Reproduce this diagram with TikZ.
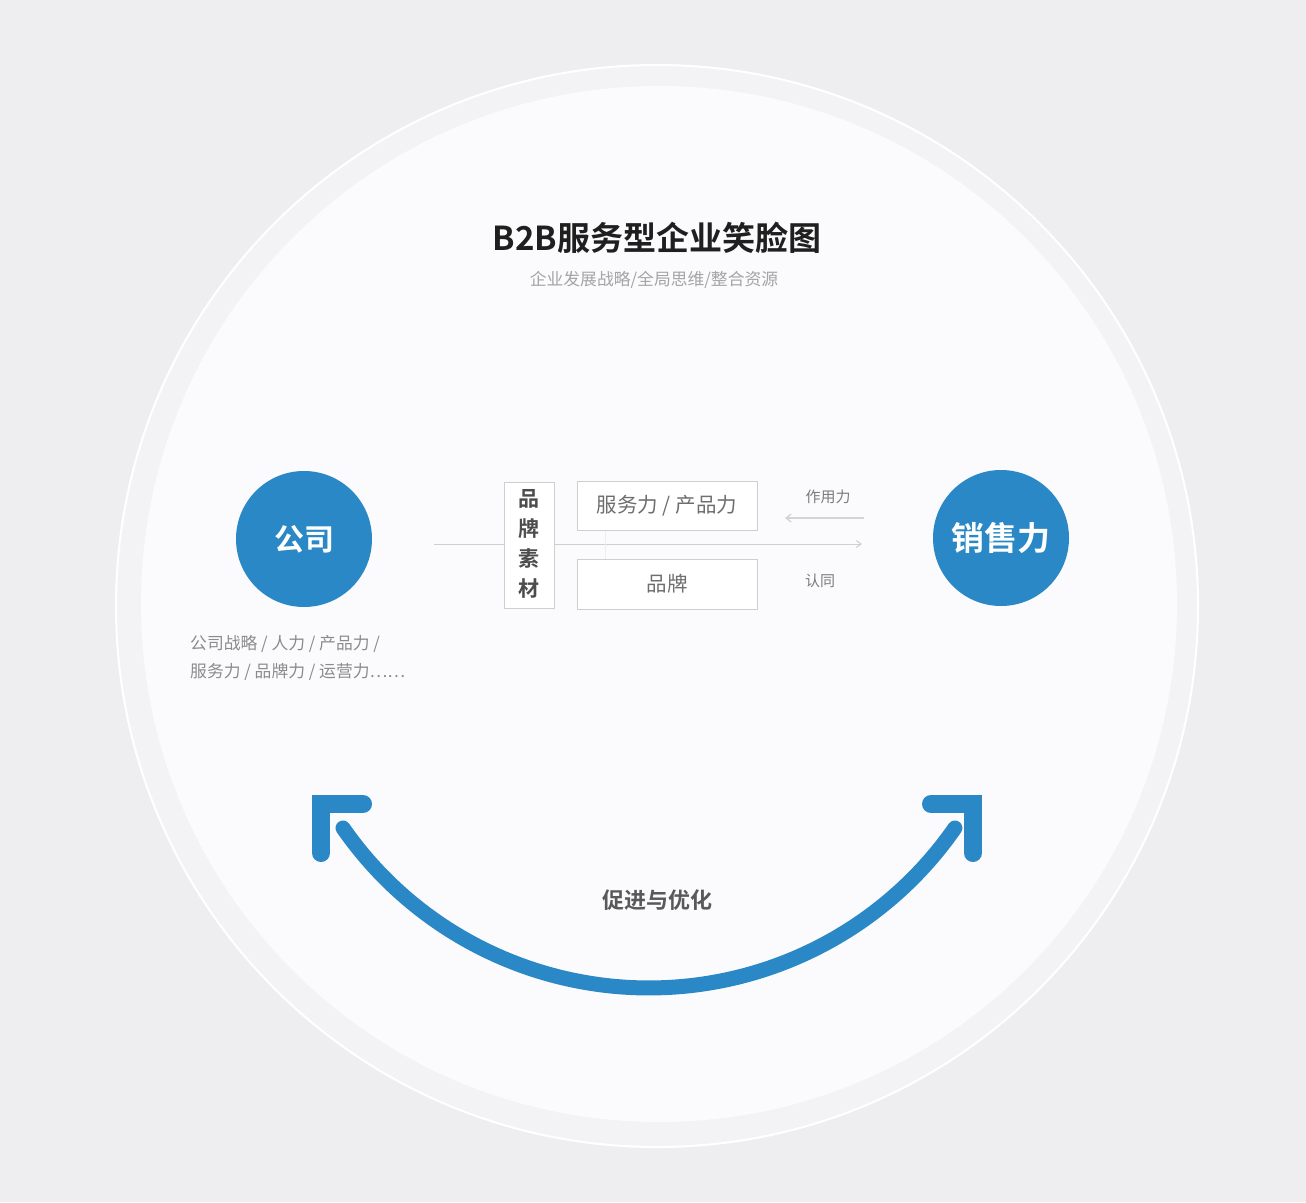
\documentclass[tikz,border=0pt]{standalone}
\usepackage{fontspec}
\setmainfont{Noto Sans CJK SC}[BoldFont={Noto Sans CJK SC Bold}]
\usetikzlibrary{arrows.meta}
\definecolor{bgc}{HTML}{EEEEF0}
\definecolor{ringc}{HTML}{F3F3F5}
\definecolor{innerc}{HTML}{FBFBFD}
\definecolor{bluec}{HTML}{2A88C6}
\definecolor{boxline}{HTML}{CFCFCF}
\definecolor{txtgray}{HTML}{6E6E6E}
\definecolor{lightgray}{HTML}{9A9A9A}
\tikzset{
  bluedot/.style={circle,fill=bluec,minimum size=136pt,inner sep=0pt,text=white,font=\bfseries\fontsize{30}{30}\selectfont},
  framebox/.style={draw=boxline,line width=1pt,fill=white,inner sep=0pt},
  smile/.style={draw=bluec,line width=15pt,line cap=round},
  headL/.style={draw=bluec,line width=18pt,line cap=round,line join=miter},
  thinline/.style={draw=boxline,line width=1pt},
  smalltxt/.style={text=lightgray,font=\fontsize{15}{15}\selectfont,inner sep=0pt},
}
\begin{document}
\begin{tikzpicture}[x=1pt,y=-1pt]
\useasboundingbox (0,0) rectangle (1306,1202);
\fill[bgc] (0,0) rectangle (1306,1202);
% big circle
\fill[ringc] (657,606) circle[radius=541];
\draw[white,line width=2pt] (657,606) circle[radius=541];
\fill[innerc] (659,604) circle[radius=518];
% title
\node[font=\bfseries\fontsize{33}{33}\selectfont,text=black!88] (title) at (657,238) {B2B服务型企业笑脸图};
\node[font=\fontsize{16.8}{16.8}\selectfont,text=lightgray!90] (subtitle) at (654,280) {企业发展战略/全局思维/整合资源};
% blue circles
\node[bluedot] (gongsi) at (304,539) {公司};
\node[bluedot,font=\bfseries\fontsize{33}{33}\selectfont] (xiaoshou) at (1001,538) {销售力};
% left text
\node[smalltxt,anchor=west,text=txtgray!80,font=\fontsize{16.8}{16.8}\selectfont] (l1) at (190,644) {公司战略 / 人力 / 产品力 /};
\node[smalltxt,anchor=west,text=txtgray!80,font=\fontsize{16.8}{16.8}\selectfont] (l2) at (190,672) {服务力 / 品牌力 / 运营力……};
% center axis
\coordinate (axL) at (434,544);
\coordinate (axR) at (862,544);
\draw[thinline,-{Straight Barb[length=5pt,width=7pt]}] (axL) -- (axR);
\draw[draw=boxline!35,line width=0.8pt] (605,531) -- (605,559);
% boxes
\node[framebox,minimum width=50pt,minimum height=126pt] (sucai) at (529,545) {};
\node[text=black!70,font=\bfseries\fontsize{21}{30}\selectfont,align=center] (sucaitxt) at (529,544) {品\\牌\\素\\材};
\node[framebox,minimum width=180pt,minimum height=49pt,text=txtgray,font=\fontsize{20.5}{20.5}\selectfont] (fuwu) at (667,506) {服务力 / 产品力};
\node[framebox,minimum width=180pt,minimum height=50pt,text=txtgray,font=\fontsize{20.5}{20.5}\selectfont] (pinpai) at (667,584) {品牌};
% force arrow
\coordinate (fa1) at (864,518);
\coordinate (fa2) at (785,518);
\draw[draw=boxline!90,line width=1.4pt,-{Straight Barb[length=5pt,width=8pt]}] (fa1) -- (fa2);
\node[smalltxt,text=txtgray!90] (zuoyong) at (828,497) {作用力};
\node[smalltxt,text=txtgray!90] (rentong) at (820,581) {认同};
% smile
\draw[smile] (343,828) arc[start angle=145.2,end angle=34.8,radius=372.6];
\draw[headL] (363,804) -- (321,804) -- (321,853);
\draw[headL] (931,804) -- (973,804) -- (973,853);
\node[font=\bfseries\fontsize{22}{22}\selectfont,text=black!65] (cujin) at (657,900) {促进与优化};
\end{tikzpicture}
\end{document}
